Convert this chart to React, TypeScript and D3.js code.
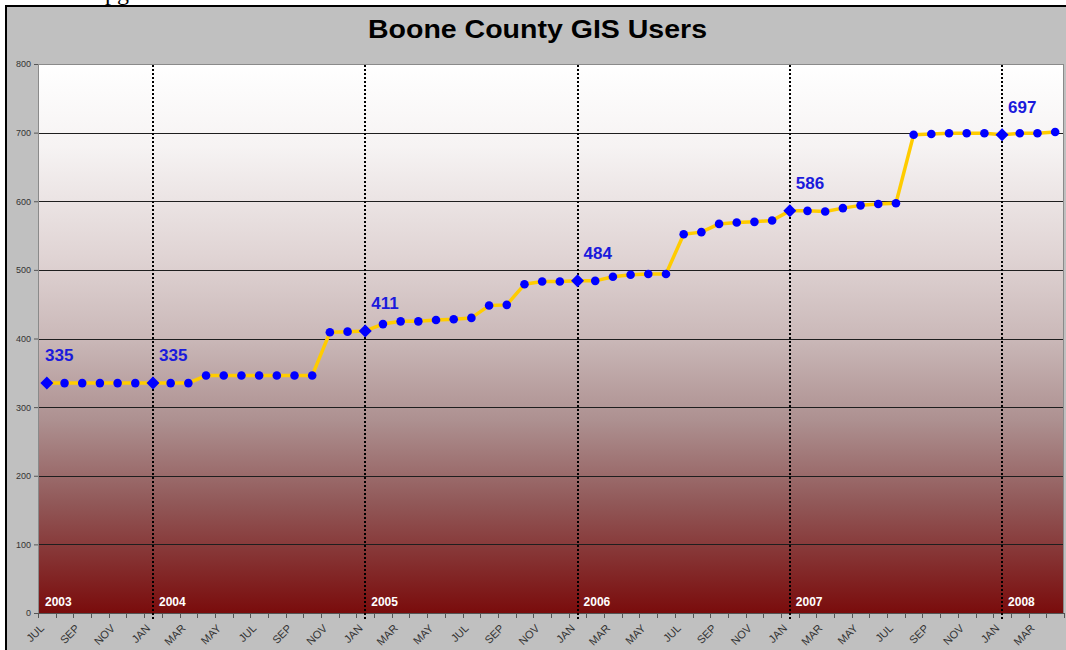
import * as d3 from "d3";
import { useEffect, useRef } from "react";

const WIDTH = 1066;
const HEIGHT = 650;

const monthNames = ["JAN", "FEB", "MAR", "APR", "MAY", "JUN", "JUL", "AUG", "SEP", "OCT", "NOV", "DEC"];
const startYear = 2003;
const startMonth = 6; // JUL

// monthly user counts, Jul 2003 .. Apr 2008
const values = [
  335, 335, 335, 335, 335, 335,
  335, 335, 335, 346, 346, 346, 346, 346, 346, 346, 409, 410,
  411, 421, 425, 425, 427, 428, 430, 448, 449, 479, 483, 483,
  484, 484, 490, 493, 494, 494, 552, 555, 567, 569, 570, 572,
  586, 586, 585, 590, 594, 596, 597, 697, 698, 699, 699, 699,
  697, 699, 699, 701,
];

const yTicks = [0, 100, 200, 300, 400, 500, 600, 700, 800];
const gridValues = [100, 200, 300, 400, 500, 600, 700];

const categories = values.map((_, i) => {
  const m = (startMonth + i) % 12;
  const yr = startYear + Math.floor((startMonth + i) / 12);
  return { key: `${monthNames[m]} ${yr}`, month: monthNames[m], year: String(yr), value: values[i], index: i };
});

const App = () => {
  const svgRef = useRef<SVGSVGElement>(null);

  useEffect(() => {
    const left = 38, right = 1064, top = 64, bottom = 613;
    const svg = d3.select(svgRef.current).html("");

    const x = d3.scaleBand().domain(categories.map((d) => d.key)).range([left, right]).padding(0);
    const cx = (d) => (x(d.key) ?? 0) + x.bandwidth() / 2;
    const y = d3.scaleLinear().domain([0, 800]).range([bottom, top]);

    // gradient for plot area
    const defs = svg.append("defs");
    const grad = defs.append("linearGradient").attr("id", "plotBg").attr("x1", 0).attr("y1", 0).attr("x2", 0).attr("y2", 1);
    [
      [0, "#ffffff"],
      [0.15, "#f6f3f3"],
      [0.35, "#e0d4d4"],
      [0.5, "#cab8b8"],
      [0.65, "#ad9090"],
      [0.8, "#915858"],
      [0.92, "#832a2a"],
      [1, "#7a0c0c"],
    ].forEach(([o, c]) => grad.append("stop").attr("offset", o).attr("stop-color", c));

    // "pg" fragment of page text above the chart
    svg.append("text")
      .attr("x", 105)
      .attr("y", 0)
      .attr("font-family", "'Liberation Serif', 'Times New Roman', serif")
      .attr("font-size", 24)
      .attr("fill", "#000")
      .text("pg");

    // frame
    svg.append("rect")
      .attr("x", 6)
      .attr("y", 6)
      .attr("width", WIDTH + 20)
      .attr("height", HEIGHT + 20)
      .attr("fill", "#c0c0c0")
      .attr("stroke", "#000")
      .attr("stroke-width", 2);

    // title
    svg.append("text")
      .attr("x", 537.5)
      .attr("y", 38)
      .attr("text-anchor", "middle")
      .attr("font-family", "Arial, 'Liberation Sans', sans-serif")
      .attr("font-weight", "bold")
      .attr("font-size", 25)
      .attr("textLength", 339)
      .attr("lengthAdjust", "spacingAndGlyphs")
      .attr("fill", "#000")
      .text("Boone County GIS Users");

    // plot background
    svg.append("rect")
      .attr("x", left)
      .attr("y", top)
      .attr("width", right - left)
      .attr("height", bottom - top)
      .attr("fill", "url(#plotBg)");

    // grid
    svg.append("g")
      .selectAll("line")
      .data(gridValues)
      .join("line")
      .attr("x1", left)
      .attr("x2", right)
      .attr("y1", (d) => Math.round(y(d)) + 0.5)
      .attr("y2", (d) => Math.round(y(d)) + 0.5)
      .attr("stroke", "#1e1e1e")
      .attr("stroke-width", 1);

    // plot border
    svg.append("rect")
      .attr("x", left + 0.5)
      .attr("y", top + 0.5)
      .attr("width", right - left - 1)
      .attr("height", bottom - top)
      .attr("fill", "none")
      .attr("stroke", "#8a8a8a")
      .attr("stroke-width", 1);

    // y axis
    const yAxis = svg.append("g")
      .attr("transform", `translate(${left},0)`)
      .call(d3.axisLeft(y).tickValues(yTicks).tickSize(4).tickPadding(3));
    yAxis.select(".domain").attr("stroke", "#8a8a8a");
    yAxis.selectAll(".tick line").attr("stroke", "#555");
    yAxis.selectAll(".tick text")
      .attr("font-family", "Arial, 'Liberation Sans', sans-serif")
      .attr("font-size", 9)
      .attr("fill", "#333");

    // x axis line and ticks at month boundaries
    const step = x.step();
    svg.append("line")
      .attr("x1", left)
      .attr("x2", right)
      .attr("y1", bottom + 0.5)
      .attr("y2", bottom + 0.5)
      .attr("stroke", "#555");
    svg.append("g")
      .selectAll("line")
      .data(d3.range(categories.length + 1))
      .join("line")
      .attr("x1", (i) => Math.round(left + i * step) + 0.5)
      .attr("x2", (i) => Math.round(left + i * step) + 0.5)
      .attr("y1", bottom)
      .attr("y2", bottom + 5)
      .attr("stroke", "#555");

    // month labels (every other month)
    svg.append("g")
      .selectAll("text")
      .data(categories.filter((d) => d.index % 2 === 0))
      .join("text")
      .attr("transform", (d) => `translate(${cx(d) - 2},${629}) rotate(-45)`)
      .attr("text-anchor", "end")
      .attr("font-family", "Arial, 'Liberation Sans', sans-serif")
      .attr("font-size", 11)
      .attr("fill", "#333")
      .text((d) => d.month);

    // year dividers at January
    const janCats = categories.filter((d) => d.month === "JAN");
    svg.append("g")
      .selectAll("line")
      .data(janCats)
      .join("line")
      .attr("x1", (d) => Math.round(cx(d)))
      .attr("x2", (d) => Math.round(cx(d)))
      .attr("y1", top + 1)
      .attr("y2", bottom + 7)
      .attr("stroke", "#000")
      .attr("stroke-width", 2)
      .attr("stroke-dasharray", "2 2");

    // year labels
    const yearCats = categories.filter((d) => d.index === 0 || d.month === "JAN");
    svg.append("g")
      .selectAll("text")
      .data(yearCats)
      .join("text")
      .attr("x", (d) => (d.index === 0 ? left + 7 : cx(d) + 6))
      .attr("y", 606)
      .attr("font-family", "Arial, 'Liberation Sans', sans-serif")
      .attr("font-weight", "bold")
      .attr("font-size", 12)
      .attr("fill", "#fff")
      .text((d) => d.year);

    // data line
    const line = d3.line().x((d) => cx(d)).y((d) => y(d.value));
    svg.append("path")
      .datum(categories)
      .attr("fill", "none")
      .attr("stroke", "#ffcc00")
      .attr("stroke-width", 3.5)
      .attr("stroke-linejoin", "round")
      .attr("d", line);

    // markers
    const isKey = (d) => d.index === 0 || d.month === "JAN";
    svg.append("g")
      .selectAll("circle")
      .data(categories.filter((d) => !isKey(d)))
      .join("circle")
      .attr("cx", (d) => cx(d))
      .attr("cy", (d) => y(d.value))
      .attr("r", 4.3)
      .attr("fill", "#0000ff");
    svg.append("g")
      .selectAll("path")
      .data(yearCats)
      .join("path")
      .attr("transform", (d) => `translate(${cx(d)},${y(d.value)})`)
      .attr("d", "M0,-6.5L6.5,0L0,6.5L-6.5,0Z")
      .attr("fill", "#0000ff");

    // callout values
    svg.append("g")
      .selectAll("text")
      .data(yearCats)
      .join("text")
      .attr("x", (d) => (d.index === 0 ? left + 7 : cx(d) + 6))
      .attr("y", (d) => y(d.value) - 22)
      .attr("font-family", "Arial, 'Liberation Sans', sans-serif")
      .attr("font-weight", "bold")
      .attr("font-size", 17)
      .attr("fill", "#1a1adc")
      .text((d) => d.value);
  }, []);

  return (
    <svg
      ref={svgRef}
      width={WIDTH}
      height={HEIGHT}
      style={{ position: "absolute", left: 0, top: 0, display: "block", background: "#fff" }}
    />
  );
};

export default App;
